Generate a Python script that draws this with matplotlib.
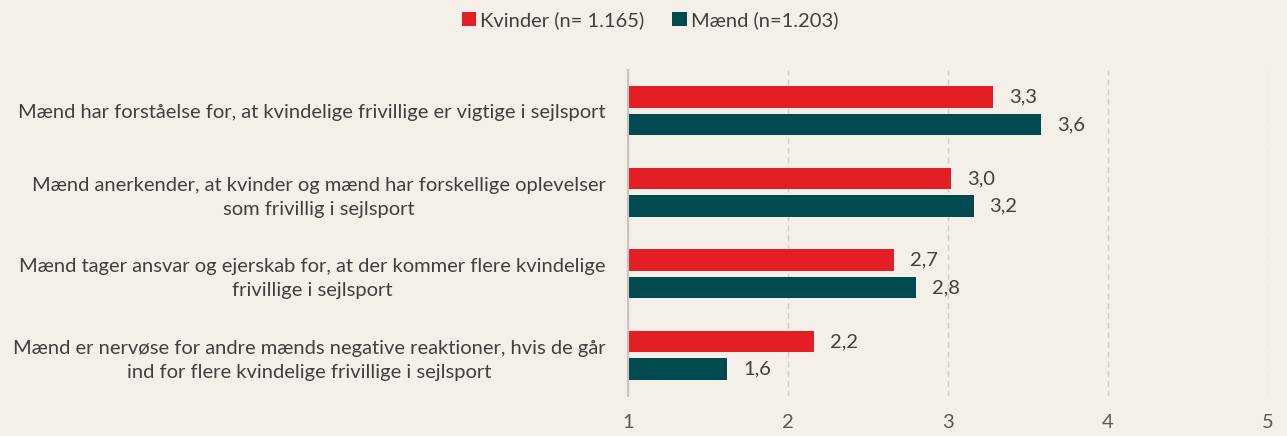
import numpy as np
import matplotlib.pyplot as plt

plt.rcParams['font.family'] = ['Lato', 'DejaVu Sans']

categories = [
    "Mænd har forståelse for, at kvindelige frivillige er vigtige i sejlsport",
    "Mænd anerkender, at kvinder og mænd har forskellige oplevelser\nsom frivillig i sejlsport",
    "Mænd tager ansvar og ejerskab for, at der kommer flere kvindelige\nfrivillige i sejlsport",
    "Mænd er nervøse for andre mænds negative reaktioner, hvis de går\nind for flere kvindelige frivillige i sejlsport",
]
kvinder = [3.28, 3.02, 2.66, 2.16]
maend = [3.58, 3.16, 2.80, 1.62]
series_labels = ["Kvinder (n= 1.165)", "Mænd (n=1.203)"]

red = "#E31E24"
teal = "#014A50"
bg = "#F5EFE9"
text_col = "#404040"
fs = 14.5

fig = plt.figure(figsize=(12.87, 4.36), dpi=100, facecolor=bg)
ax = fig.add_axes([628 / 1287, 40 / 436, 640 / 1287, 326 / 436], facecolor=bg)

y = np.arange(len(categories))
h = 0.265
off = 0.17
base = 1
ax.barh(y - off, np.array(kvinder) - base, left=base, height=h, color=red, label=series_labels[0], zorder=3)
ax.barh(y + off, np.array(maend) - base, left=base, height=h, color=teal, label=series_labels[1], zorder=3)

for yi, v in zip(y - off, kvinder):
    ax.text(v + 0.1, yi, f"{v:.1f}".replace(".", ","), va="center", ha="left", fontsize=fs, color=text_col)
for yi, v in zip(y + off, maend):
    ax.text(v + 0.1, yi, f"{v:.1f}".replace(".", ","), va="center", ha="left", fontsize=fs, color=text_col)

ax.set_xlim(1, 5)
ax.set_ylim(len(categories) - 0.5, -0.5)
ax.set_xticks([1, 2, 3, 4, 5])
ax.set_yticks(y)
ax.set_yticklabels(categories, fontsize=fs, color=text_col, ha="right", multialignment="center",
                   linespacing=1.5)
ax.tick_params(axis="y", length=0, pad=16)
ax.tick_params(axis="x", length=0, pad=13, labelsize=fs, labelcolor="#595959")

ax.grid(axis="x", color="#D0CCC8", linestyle=(0, (4, 3)), linewidth=1, zorder=0)
for s in ["top", "right", "bottom"]:
    ax.spines[s].set_visible(False)
ax.spines["left"].set_color("#C8C4C0")
ax.spines["left"].set_linewidth(1.5)
ax.spines["left"].set_zorder(4)

fig.legend(loc="upper center", bbox_to_anchor=(0.505, 1.015), ncol=2, frameon=False,
           fontsize=fs, handlelength=0.7, handleheight=0.7, handletextpad=0.2,
           columnspacing=1.4, labelcolor=text_col)

fig.savefig("out.png", dpi=100, facecolor=bg)
